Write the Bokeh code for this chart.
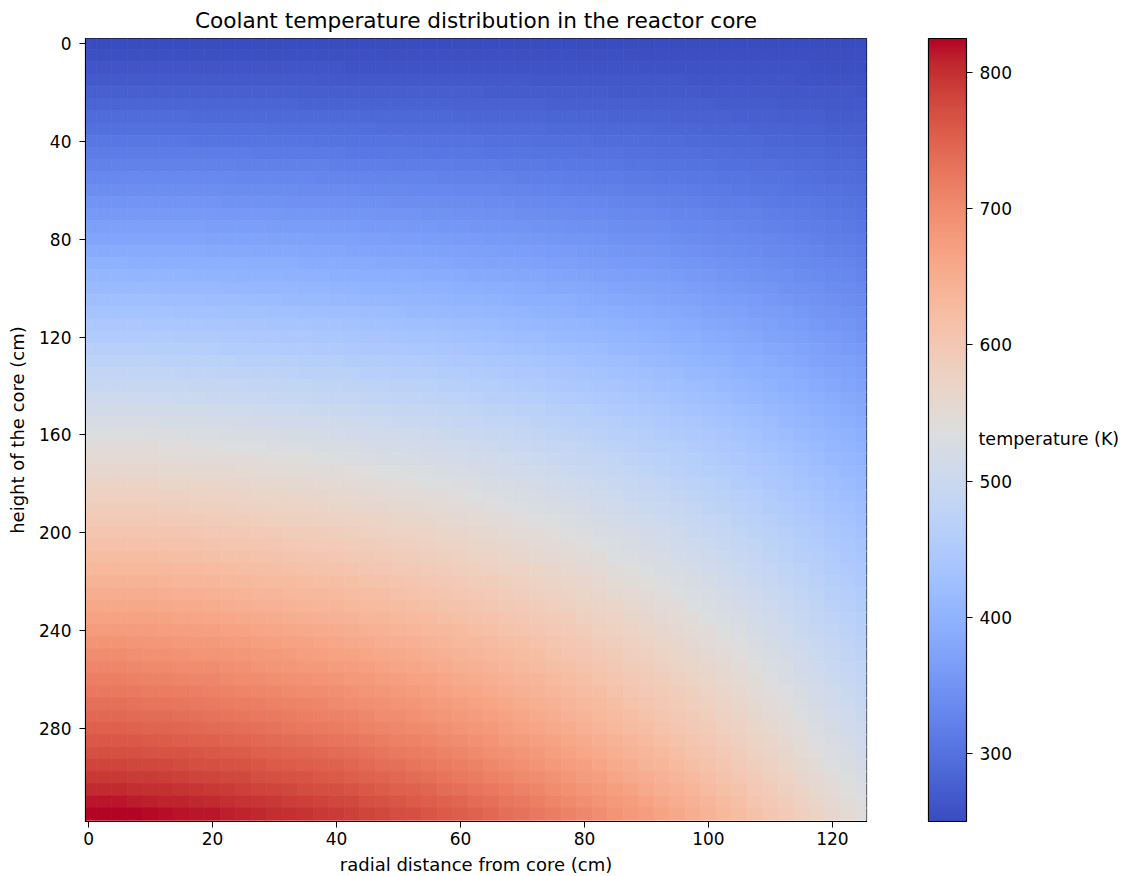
from bokeh.plotting import figure
from bokeh.layouts import row
from bokeh.models import (ColumnDataSource, LinearColorMapper, ColorBar,
                          FixedTicker, Range1d, Label)
from bokeh.transform import transform
from bokeh.embed import file_html
from bokeh.resources import INLINE

# ---------------- data ----------------
radial_cm = [0, 2.5, 5, 7.5, 10, 12.5, 15, 17.5, 20, 22.5, 25, 27.5, 30, 32.5,
             35, 37.5, 40, 42.5, 45, 47.5, 50, 52.5, 55, 57.5, 60, 62.5, 65,
             67.5, 70, 72.5, 75, 77.5, 80, 82.5, 85, 87.5, 90, 92.5, 95, 97.5,
             100, 102.5, 105, 107.5, 110, 112.5, 115, 117.5, 120, 122.5, 125]

height_cm = [0, 5, 10, 15, 20, 25, 30, 35, 40, 45, 50, 55, 60, 65, 70, 75,
             80, 85, 90, 95, 100, 105, 110, 115, 120, 125, 130, 135, 140, 145,
             150, 155, 160, 165, 170, 175, 180, 185, 190, 195, 200, 205, 210,
             215, 220, 225, 230, 235, 240, 245, 250, 255, 260, 265, 270, 275,
             280, 285, 290, 295, 300, 305, 310, 315]

# coolant temperature along the core axis (r = 0), top to bottom (K)
centerline_temp_K = [250, 256, 262, 269, 276, 283, 291, 299, 307, 315, 324,
                     333, 342, 351, 360, 369, 378, 387, 396, 405, 415, 424,
                     434, 444, 454, 464, 474, 484, 494, 504, 514, 524, 534,
                     544, 553, 562, 571, 580, 589, 598, 607, 616, 625, 634,
                     643, 652, 661, 670, 679, 688, 697, 706, 715, 724, 733,
                     742, 751, 761, 771, 781, 792, 803, 814, 825]

# coolant temperature across the core outlet (bottom row), by radius (K)
outlet_temp_K = [825, 825, 825, 824, 822, 820, 818, 816, 814, 811, 808, 805,
                 802, 799, 796, 793, 790, 786, 781, 777, 773, 769, 764, 759,
                 754, 749, 743, 737, 731, 725, 718, 712, 705, 698, 690, 683,
                 675, 667, 659, 651, 642, 633, 624, 614, 604, 594, 583, 572,
                 561, 551, 540]

x_ticks = [0, 20, 40, 60, 80, 100, 120]
y_ticks = [0, 40, 80, 120, 160, 200, 240, 280]
color_ticks = [300, 400, 500, 600, 700, 800]

title_text = "Coolant temperature distribution in the reactor core"
x_label = "radial distance from core (cm)"
y_label = "height of the core (cm)"
cbar_label = "temperature (K)"

# ---------------- coolwarm palette (Moreland diverging map) ----------------
cw = [(59, 76, 192), (68, 90, 204), (77, 104, 215), (87, 117, 225),
      (98, 130, 234), (108, 142, 241), (119, 154, 247), (130, 165, 251),
      (141, 176, 254), (152, 185, 255), (163, 194, 255), (174, 201, 253),
      (184, 208, 249), (194, 213, 244), (204, 217, 238), (213, 219, 230),
      (221, 221, 221), (229, 216, 209), (236, 211, 197), (241, 204, 185),
      (245, 196, 173), (247, 187, 160), (247, 177, 148), (247, 166, 135),
      (244, 154, 123), (241, 141, 111), (236, 127, 99), (229, 112, 88),
      (222, 96, 77), (213, 80, 66), (203, 62, 56), (192, 40, 47),
      (180, 4, 38)]
palette = []
for i in range(256):
    t = i / 255 * (len(cw) - 1)
    k = min(int(t), len(cw) - 2)
    f = t - k
    c = [round(a + (b - a) * f) for a, b in zip(cw[k], cw[k + 1])]
    palette.append("#%02x%02x%02x" % tuple(c))

# ---------------- build the cell table ----------------
t_in = centerline_temp_K[0]
t_top = outlet_temp_K[0]
half_r = (radial_cm[1] - radial_cm[0]) / 2
half_z = (height_cm[1] - height_cm[0]) / 2
L, R, T, B, V = [], [], [], [], []
for z, tc in zip(height_cm, centerline_temp_K):
    for r, tb in zip(radial_cm, outlet_temp_K):
        L.append(r - half_r)
        R.append(r + half_r)
        T.append(z - half_z)
        B.append(z + half_z)
        V.append(t_in + (tc - t_in) * (tb - t_in) / (t_top - t_in))
src = ColumnDataSource(dict(left=L, right=R, top=T, bottom=B, temp=V))

mapper = LinearColorMapper(palette=palette, low=min(centerline_temp_K),
                           high=max(centerline_temp_K))

FONT = "DejaVu Sans"
TICK_FS = "17px"
LABEL_FS = "18px"

# ---------------- main heat map ----------------
p = figure(frame_width=781, frame_height=783,
           x_range=Range1d(-0.5, 125.5), y_range=Range1d(318, -2),
           toolbar_location=None, output_backend="svg",
           min_border_left=85, min_border_right=10,
           min_border_top=37, min_border_bottom=56,
           background_fill_color="white", border_fill_color="white")

p.quad(left="left", right="right", top="top", bottom="bottom", source=src,
       fill_color=transform("temp", mapper),
       line_color=transform("temp", mapper), line_width=0.8)

p.title.text = title_text
p.title.align = "center"
p.title.text_font = FONT
p.title.text_font_size = "21.6px"
p.title.text_font_style = "normal"
p.title.text_color = "black"
p.title.standoff = 11

p.xaxis.ticker = FixedTicker(ticks=x_ticks)
p.yaxis.ticker = FixedTicker(ticks=y_ticks)
p.xaxis.axis_label = x_label
p.yaxis.axis_label = y_label
for ax in (p.xaxis, p.yaxis):
    ax.axis_label_text_font = FONT
    ax.axis_label_text_font_size = LABEL_FS
    ax.axis_label_text_font_style = "normal"
    ax.axis_label_text_color = "black"
    ax.major_label_text_font = FONT
    ax.major_label_text_font_size = TICK_FS
    ax.major_label_text_color = "black"
    ax.major_tick_out = 6
    ax.major_tick_in = 0
    ax.minor_tick_out = 0
    ax.minor_tick_in = 0
    ax.major_tick_line_color = "black"
    ax.axis_line_color = "black"
p.xaxis.major_label_standoff = 4
p.yaxis.major_label_standoff = 8
p.xaxis.axis_label_standoff = 6
p.yaxis.axis_label_standoff = 8
p.grid.visible = False
p.outline_line_color = "black"
p.outline_line_width = 1.2

# ---------------- colour bar panel ----------------
c = figure(frame_width=198, frame_height=783, toolbar_location=None,
           output_backend="svg", x_axis_type=None, y_axis_type=None,
           x_range=Range1d(0, 1), y_range=Range1d(0, 1),
           min_border_left=52, min_border_right=0,
           min_border_top=37, min_border_bottom=56,
           outline_line_color=None,
           background_fill_color="white", border_fill_color="white")
c.grid.visible = False

cbar = ColorBar(color_mapper=mapper, location=(0, 0), width=38, height=783,
                padding=0, margin=0,
                ticker=FixedTicker(ticks=color_ticks),
                bar_line_color="black", bar_line_width=1.2,
                major_tick_out=6, major_tick_in=0,
                major_tick_line_color="black",
                minor_tick_line_color=None,
                major_label_text_font=FONT,
                major_label_text_font_size=TICK_FS,
                major_label_text_color="black",
                label_standoff=7,
                border_line_color=None, background_fill_alpha=0)
c.add_layout(cbar, "center")

c.add_layout(Label(x=50, y=383, x_units="screen", y_units="screen",
                   text=cbar_label, text_font=FONT,
                   text_font_size="17.5px",
                   text_baseline="middle", text_color="black"))

layout = row(p, c)
open("out.html", "w").write(file_html(layout, INLINE))
